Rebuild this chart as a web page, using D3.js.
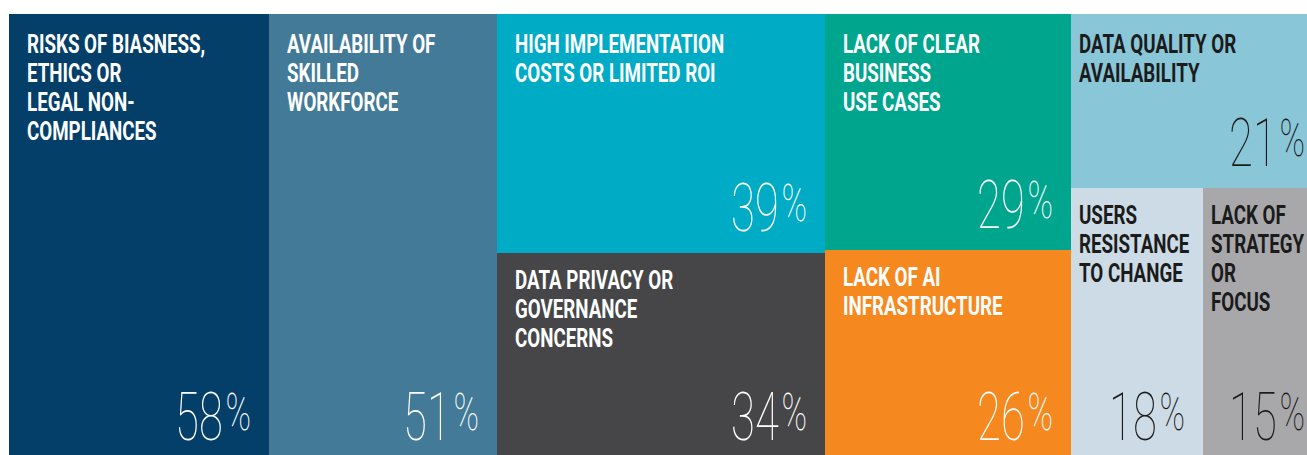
<!DOCTYPE html>
<html>
<head>
<meta charset="utf-8">
<script src="https://cdn.jsdelivr.net/npm/d3@7"></script>
<style>
  html, body { margin: 0; padding: 0; background: #fff; overflow: hidden; }
  svg { display: block; }
  .label { font-family: Roboto, "Liberation Sans", sans-serif; font-weight: 700; font-size: 25px; }
  .pct { font-family: Roboto, "Liberation Sans", sans-serif; font-weight: 100; }
</style>
</head>
<body>
<script>
(function (){

    //chart data
    var categories = [
        ["RISKS OF BIASNESS,", "ETHICS OR", "LEGAL NON-", "COMPLIANCES"],
        ["AVAILABILITY OF", "SKILLED", "WORKFORCE"],
        ["HIGH IMPLEMENTATION", "COSTS OR LIMITED ROI"],
        ["DATA PRIVACY OR", "GOVERNANCE", "CONCERNS"],
        ["LACK OF CLEAR", "BUSINESS", "USE CASES"],
        ["LACK OF AI", "INFRASTRUCTURE"],
        ["DATA QUALITY OR", "AVAILABILITY"],
        ["USERS", "RESISTANCE", "TO CHANGE"],
        ["LACK OF", "STRATEGY", "OR", "FOCUS"]
    ];
    var values = [58, 51, 39, 34, 29, 26, 21, 18, 15];

    //which items are stacked together in each column (nested array = side by side)
    var columns = [[0], [1], [2, 3], [4, 5], [6, [7, 8]]];

    //styles
    var fills = ["#033f69", "#427a98", "#00abc5", "#464648", "#00a58e", "#f5881f", "#88c6d8", "#cddbe6", "#a8a8ab"];
    var darkText = [6, 7, 8];

    var width = 1307, height = 455;
    var left = 9, top = 14,
        mapWidth = 1304, mapHeight = 448;

    var svg = d3.select("body")
        .append("svg")
        .attr("width", width)
        .attr("height", height);

    function leaf(i){
        return { index: i, value: values[i] };
    }

    var data = {
        children: columns.map(function(col){
            return {
                children: col.map(function(item){
                    if (Array.isArray(item)) {
                        return { children: item.map(leaf) };
                    }
                    return leaf(item);
                })
            };
        })
    };

    var root = d3.hierarchy(data).sum(function(d){ return d.value || 0; });

    d3.treemap()
        .tile(d3.treemapSliceDice)
        .size([mapWidth, mapHeight])
        .round(true)(root);

    var lastColumnX = root.children[root.children.length - 1].x0;

    var cells = svg.append("g")
        .attr("transform", "translate(" + left + "," + top + ")")
        .selectAll(".cell")
        .data(root.leaves())
        .enter()
        .append("g")
        .attr("class", "cell")
        .attr("transform", function(d){ return "translate(" + d.x0 + "," + d.y0 + ")"; });

    cells.append("rect")
        .attr("width", function(d){ return d.x1 - d.x0; })
        .attr("height", function(d){ return d.y1 - d.y0; })
        .style("fill", function(d){ return fills[d.data.index]; });

    function textColor(d){
        return darkText.indexOf(d.data.index) > -1 ? "#1b1b1b" : "#ffffff";
    }

    //category labels (narrow last column gets less padding)
    cells.append("g")
        .attr("transform", function(d){
            var padLeft = d.x0 >= lastColumnX ? 8 : 18;
            var firstLine = d.y0 === 0 ? 39 : 36;
            return "translate(" + padLeft + "," + firstLine + ") scale(0.75,1)";
        })
        .append("text")
        .attr("class", "label")
        .style("fill", textColor)
        .selectAll("tspan")
        .data(function(d){ return categories[d.data.index]; })
        .enter()
        .append("tspan")
        .attr("x", 0)
        .attr("y", function(d, i){ return i * 29; })
        .text(function(d){ return d; });

    //percent values
    var pct = cells.append("g")
        .attr("transform", function(d){
            var padRight = d.x1 >= mapWidth ? 8 : 18;
            return "translate(" + (d.x1 - d.x0 - padRight) + "," + (d.y1 - d.y0 - 22) + ") scale(0.66,1)";
        })
        .append("text")
        .attr("class", "pct")
        .attr("text-anchor", "end")
        .style("fill", textColor);

    pct.append("tspan")
        .style("font-size", "66px")
        .text(function(d){ return d.data.value; });

    pct.append("tspan")
        .attr("dx", 4)
        .attr("dy", -10)
        .style("font-size", "52px")
        .text("%");

})();
</script>
</body>
</html>
